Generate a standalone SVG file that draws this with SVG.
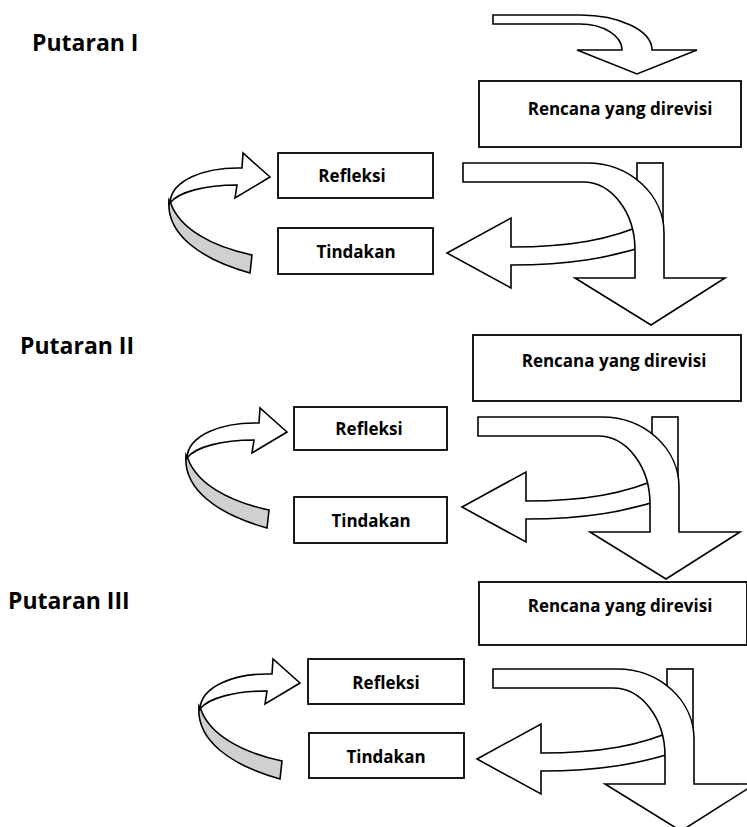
<svg xmlns="http://www.w3.org/2000/svg" width="747" height="827" viewBox="0 0 747 827">
<style>
.box{fill:#fff;stroke:#000;stroke-width:1.8}
.ar{fill:#fff;stroke:#000;stroke-width:1.6;stroke-linejoin:miter}
.gr{fill:#d0d0d0;stroke:#000;stroke-width:1.6}
.t{font-family:"Open Sans","Liberation Sans",sans-serif;font-weight:700;font-size:17px;fill:#000;text-anchor:middle}
.h{font-family:"Open Sans","Liberation Sans",sans-serif;font-weight:700;font-size:23px;fill:#000}
</style>
<defs>
<g id="turn">
<rect class="ar" x="637" y="163" width="26" height="72"/>
<path class="ar" d="M511,247 C570,247 610,240 650,222 L652,244 C610,258 570,265 511,265 V288 L447,253 L511,218 Z"/>
<path class="ar" d="M463,163 H587 A77,70 0 0 1 664,233 V278 H725 L651,325 L575,278 H635 V250 A52,68 0 0 0 583,182 H463 Z"/>
</g>
<g id="loop">
<path class="gr" d="M169,200 C166,234 200,259 250,273 L252,255 C210,246 180,228 171,204 Z"/>
<path class="ar" d="M242,168 L243,153 L270,177 L235,198 L237,185 C205,185 178,192 170,203 C171,180 205,167 242,168 Z"/>
</g>
</defs>
<g id="labels">
<text class="h" x="32" y="51">Putaran I</text>
<text class="h" x="20" y="354">Putaran II</text>
<text class="h" x="8" y="609">Putaran III</text>
</g>
<g id="connectors">
<path class="ar" d="M493,15 H580 A72,35 0 0 1 652,50 H697 L637,74 L577,50 H622 A42,26 0 0 0 580,24 H493 Z"/>
<use href="#turn"/>
<use href="#turn" transform="translate(15,254)"/>
<use href="#turn" transform="translate(30,506)"/>
<use href="#loop"/>
<use href="#loop" transform="translate(17,255)"/>
<use href="#loop" transform="translate(30,506)"/>
</g>
<g id="rencana1"><rect class="box" x="479" y="81" width="262" height="66"/><text class="t" x="620" y="115">Rencana yang direvisi</text></g>
<g id="refleksi1"><rect class="box" x="278" y="153" width="155" height="45"/><text class="t" x="352" y="182">Refleksi</text></g>
<g id="tindakan1"><rect class="box" x="278" y="228" width="155" height="46"/><text class="t" x="356" y="258">Tindakan</text></g>
<g id="rencana2"><rect class="box" x="473" y="335" width="268" height="66"/><text class="t" x="614" y="367">Rencana yang direvisi</text></g>
<g id="refleksi2"><rect class="box" x="294" y="407" width="153" height="43"/><text class="t" x="369" y="435">Refleksi</text></g>
<g id="tindakan2"><rect class="box" x="294" y="497" width="153" height="46"/><text class="t" x="371" y="527">Tindakan</text></g>
<g id="rencana3"><rect class="box" x="479" y="582" width="268" height="63"/><text class="t" x="620" y="612">Rencana yang direvisi</text></g>
<g id="refleksi3"><rect class="box" x="308" y="659" width="156" height="45"/><text class="t" x="386" y="689">Refleksi</text></g>
<g id="tindakan3"><rect class="box" x="309" y="733" width="155" height="45"/><text class="t" x="386" y="763">Tindakan</text></g>
</svg>
